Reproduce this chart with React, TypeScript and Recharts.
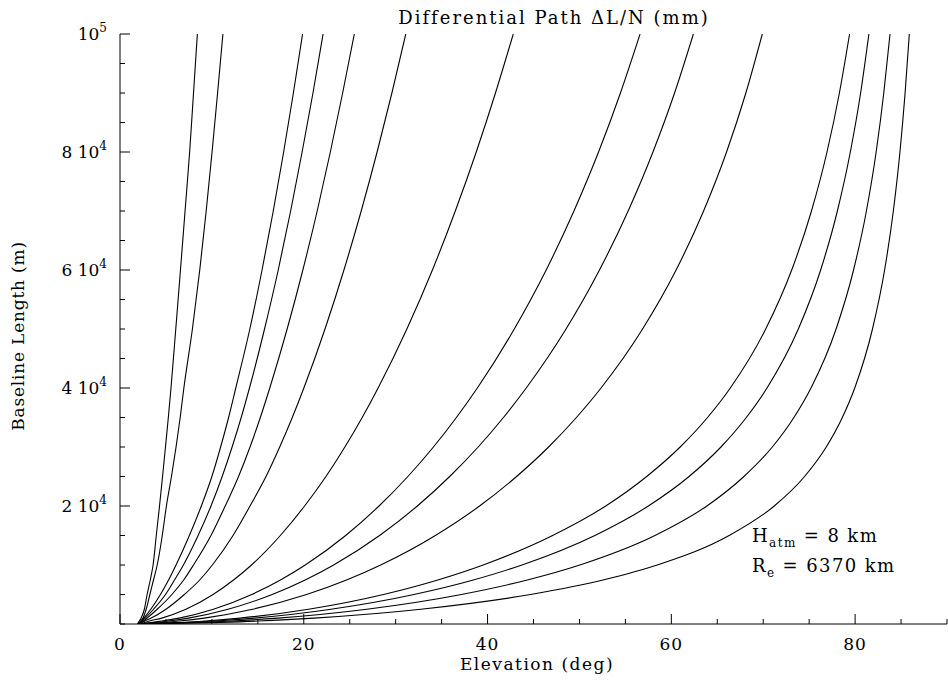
import { Line, LineChart, XAxis, YAxis } from "recharts";

const baselines = [
  0, 500, 1000, 2500, 5000, 7500, 10000, 15000, 20000, 25000, 30000, 35000,
  40000, 50000, 60000, 70000, 80000, 90000, 100000,
];

// elevation (deg) of each ΔL/N contour at the baseline levels above
const curve01 = [1.9, 2.1, 2.3, 2.65, 2.95, 3.3, 3.6, 3.95, 4.3, 4.63, 4.95, 5.26, 5.55, 6.07, 6.58, 7.08, 7.58, 8.0, 8.42];
const curve02 = [2.0, 2.25, 2.5, 2.85, 3.25, 3.65, 4.05, 4.6, 5.05, 5.6, 6.1, 6.55, 6.95, 7.88, 8.68, 9.38, 10.02, 10.62, 11.2];
const curve03 = [2.0, 2.3, 2.6, 3.35, 4.4, 5.3, 6.1, 7.55, 8.85, 10.0, 10.95, 11.82, 12.6, 14.13, 15.46, 16.68, 17.81, 18.87, 19.87];
const curve04 = [2.0, 2.4, 2.75, 3.65, 4.95, 5.95, 6.9, 8.5, 9.9, 11.12, 12.2, 13.19, 14.09, 15.73, 17.22, 18.57, 19.82, 21.0, 22.1];
const curve05 = [2.1, 2.55, 2.95, 4.05, 5.65, 6.95, 8.0, 9.9, 11.45, 12.9, 14.15, 15.27, 16.3, 18.19, 19.9, 21.46, 22.89, 24.23, 25.5];
const curve06 = [2.1, 2.7, 3.4, 5.0, 7.0, 8.7, 10.05, 12.3, 14.15, 15.89, 17.38, 18.75, 20.01, 22.31, 24.37, 26.25, 27.98, 29.59, 31.1];
const curve07 = [2.2, 3.21, 4.54, 7.17, 10.13, 12.39, 14.31, 17.45, 20.09, 22.41, 24.47, 26.36, 28.09, 31.22, 34.0, 36.49, 38.77, 40.86, 42.8];
const curve08 = [2.2, 4.55, 6.44, 10.17, 14.34, 17.51, 20.16, 24.56, 28.19, 31.33, 34.11, 36.61, 38.89, 42.91, 46.38, 49.4, 52.08, 54.46, 56.6];
const curve09 = [2.2, 5.27, 7.45, 11.76, 16.56, 20.21, 23.25, 28.25, 32.36, 35.88, 38.98, 41.73, 44.21, 48.54, 52.18, 55.3, 58.0, 60.35, 62.4];
const curve10 = [2.2, 6.48, 9.16, 14.43, 20.3, 24.72, 28.37, 34.32, 39.13, 43.16, 46.64, 49.67, 52.35, 56.87, 60.52, 63.51, 66.01, 68.11, 69.9];
const curve11 = [2.2, 9.26, 13.07, 20.52, 28.68, 34.68, 39.52, 47.08, 52.86, 57.32, 60.96, 63.94, 66.42, 70.27, 73.1, 75.25, 76.94, 78.29, 79.4];
const curve12 = [2.2, 10.39, 14.66, 22.97, 31.99, 38.55, 43.75, 51.68, 57.5, 61.93, 65.4, 68.16, 70.41, 73.82, 76.25, 78.07, 79.48, 80.6, 81.5];
const curve13 = [2.2, 12.21, 17.2, 26.86, 37.15, 44.43, 50.04, 58.22, 63.87, 67.9, 70.99, 73.34, 75.2, 77.93, 79.83, 81.23, 82.29, 83.12, 83.8];
const curve14 = [2.2, 15.02, 21.1, 32.73, 44.67, 52.67, 58.48, 66.29, 71.2, 74.5, 76.86, 78.61, 79.96, 81.89, 83.21, 84.16, 84.88, 85.44, 85.9];

const curves = [
  curve01, curve02, curve03, curve04, curve05, curve06, curve07,
  curve08, curve09, curve10, curve11, curve12, curve13, curve14,
];

const xTicks = [0, 5, 10, 15, 20, 25, 30, 35, 40, 45, 50, 55, 60, 65, 70, 75, 80, 85, 90];
const xLabels = [0, 20, 40, 60, 80];
const yTicks = [
  0, 5000, 10000, 15000, 20000, 25000, 30000, 35000, 40000, 45000, 50000,
  55000, 60000, 65000, 70000, 75000, 80000, 85000, 90000, 95000, 100000,
];
const yLabels = [20000, 40000, 60000, 80000, 100000];

const FONT = "'DejaVu Serif', serif";

function BottomTick(props: any) {
  const { x, y, payload } = props;
  const major = xLabels.includes(payload.value);
  return (
    <g>
      <line x1={x} x2={x} y1={y} y2={y - (major ? 10 : 5)} stroke="#000" />
      {major && (
        <text x={x} y={y + 26} textAnchor="middle" fontSize={17} fontFamily={FONT} fill="#000" letterSpacing={1}>
          {payload.value}
        </text>
      )}
    </g>
  );
}

function TopTick(props: any) {
  const { x, y, payload } = props;
  const major = xLabels.includes(payload.value);
  return <line x1={x} x2={x} y1={y} y2={y + (major ? 10 : 5)} stroke="#000" />;
}

function LeftTick(props: any) {
  const { x, y, payload } = props;
  const v = payload.value;
  const major = yLabels.includes(v);
  let label = null;
  if (major) {
    const coef = v === 100000 ? "" : `${v / 10000} `;
    const exp = v === 100000 ? "5" : "4";
    label = (
      <text x={x - 13} y={y + 6} textAnchor="end" fontSize={17} fontFamily={FONT} fill="#000">
        {coef}10
        <tspan dy={-8} fontSize={12}>{exp}</tspan>
      </text>
    );
  }
  return (
    <g>
      <line x1={x} x2={x + (major ? 10 : 5)} y1={y} y2={y} stroke="#000" />
      {label}
    </g>
  );
}

function RightTick(props: any) {
  const { x, y, payload } = props;
  const major = yLabels.includes(payload.value);
  return <line x1={x} x2={x - (major ? 10 : 5)} y1={y} y2={y} stroke="#000" />;
}

export default function App() {
  return (
    <div style={{ position: "absolute", left: 0, top: 0, width: 948, height: 681, background: "#fff" }}>
      <LineChart width={948} height={681} margin={{ top: 34, right: 1, bottom: 0, left: 0 }}>
        <XAxis
          xAxisId="bottom"
          type="number"
          dataKey="e"
          domain={[0, 90]}
          allowDataOverflow
          ticks={xTicks}
          interval={0}
          tickSize={0}
          tickMargin={0}
          height={57}
          axisLine={{ stroke: "#000" }}
          tick={(p: any) => <BottomTick {...p} />}
        />
        <XAxis
          xAxisId="top"
          orientation="top"
          type="number"
          dataKey="e"
          domain={[0, 90]}
          allowDataOverflow
          ticks={xTicks}
          interval={0}
          tickSize={0}
          tickMargin={0}
          height={0}
          axisLine={{ stroke: "#000" }}
          tick={(p: any) => <TopTick {...p} />}
        />
        <YAxis
          yAxisId="left"
          type="number"
          domain={[0, 100000]}
          allowDataOverflow
          ticks={yTicks}
          interval={0}
          tickSize={0}
          tickMargin={0}
          width={120}
          axisLine={{ stroke: "#000" }}
          tick={(p: any) => <LeftTick {...p} />}
        />
        <YAxis
          yAxisId="right"
          orientation="right"
          type="number"
          domain={[0, 100000]}
          allowDataOverflow
          ticks={yTicks}
          interval={0}
          tickSize={0}
          tickMargin={0}
          width={0}
          axisLine={{ stroke: "#000" }}
          tick={(p: any) => <RightTick {...p} />}
        />
        {curves.map((c, i) => (
          <Line
            key={i}
            xAxisId="bottom"
            yAxisId="left"
            data={c.map((e, j) => ({ e, b: baselines[j] }))}
            dataKey="b"
            type="monotone"
            stroke="#000"
            strokeWidth={1.1}
            dot={false}
            activeDot={false}
            isAnimationActive={false}
          />
        ))}
      </LineChart>
      <svg
        width={948}
        height={681}
        style={{ position: "absolute", left: 0, top: 0, pointerEvents: "none" }}
        fontFamily={FONT}
        fill="#000"
      >
        <text x={554} y={24} textAnchor="middle" fontSize={18} letterSpacing={2}>
          Differential Path ΔL/N (mm)
        </text>
        <text x={537} y={670} textAnchor="middle" fontSize={17} letterSpacing={1.5}>
          Elevation (deg)
        </text>
        <text x={-336} y={24} transform="rotate(-90)" textAnchor="middle" fontSize={17} letterSpacing={0.8}>
          Baseline Length (m)
        </text>
        <text x={752} y={542} fontSize={18} letterSpacing={1.4}>
          H<tspan dy={5} fontSize={12}>atm</tspan>
          <tspan dy={-5}> = 8 km</tspan>
        </text>
        <text x={752} y={572} fontSize={18} letterSpacing={1.4}>
          R<tspan dy={5} fontSize={12}>e</tspan>
          <tspan dy={-5}> = 6370 km</tspan>
        </text>
      </svg>
    </div>
  );
}
